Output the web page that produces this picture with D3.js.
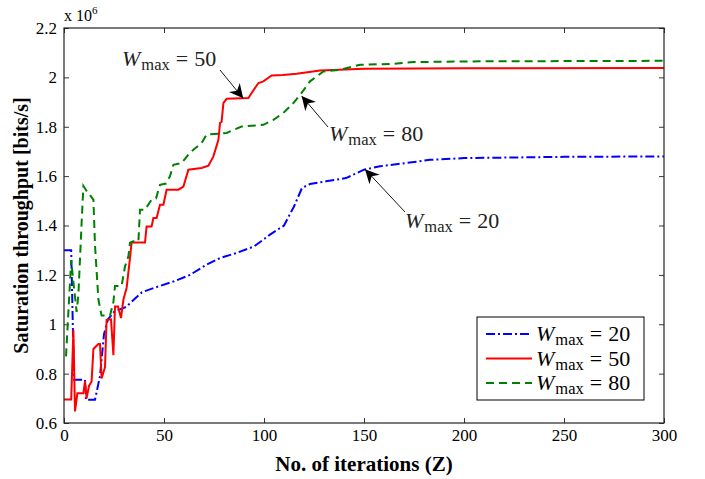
<!DOCTYPE html>
<html>
<head>
<meta charset="utf-8">
<script src="https://cdn.jsdelivr.net/npm/d3@7"></script>
<style>
  body { margin: 0; background: #fff; }
</style>
</head>
<body>
<div id="chart"></div>
<script>

// iterations (Z) and throughput (x 10^6 bits/s)
var w20Iter = [0, 3.6, 5, 10.5, 11, 15.5, 18, 20, 22, 25, 31, 35, 39, 45, 55, 63, 71, 78, 86, 95, 103, 110, 115, 119, 123, 131, 141, 150, 158, 171, 183, 200, 250, 300];
var w20Vals = [1.30, 1.30, 0.775, 0.775, 0.694, 0.694, 0.79, 0.96, 1.02, 1.05, 1.07, 1.10, 1.13, 1.147, 1.174, 1.20, 1.24, 1.268, 1.288, 1.315, 1.363, 1.40, 1.477, 1.552, 1.568, 1.579, 1.592, 1.626, 1.64, 1.653, 1.666, 1.673, 1.678, 1.68];

var w50Iter = [0, 3.6, 4.7, 5.5, 6.7, 9.7, 10.5, 11.3, 12.5, 13.8, 14.7, 17.2, 18, 18.8, 20.5, 21.3, 23.5, 24.7, 25.5, 27, 28.5, 29.7, 31.3, 33, 33.8, 40.5, 41.3, 43.8, 44.7, 46.3, 48, 49.7, 51.3, 57.2, 59.7, 62.2, 68.8, 72.2, 74.7, 77.2, 78, 78.8, 79.7, 81.3, 92.2, 93.8, 97.2, 99.7, 103.8, 109.5, 116.3, 128, 150, 200, 300];
var w50Vals = [0.695, 0.695, 0.978, 0.647, 0.721, 0.721, 0.77, 0.70, 0.75, 0.768, 0.90, 0.92, 0.92, 0.78, 0.826, 1.018, 1.02, 0.875, 1.072, 1.072, 1.025, 1.10, 1.147, 1.268, 1.331, 1.331, 1.396, 1.396, 1.43, 1.43, 1.484, 1.484, 1.545, 1.545, 1.558, 1.626, 1.633, 1.642, 1.68, 1.747, 1.815, 1.82, 1.896, 1.913, 1.916, 1.937, 1.977, 1.984, 2.008, 2.01, 2.015, 2.028, 2.035, 2.037, 2.038];

var w80Iter = [1, 2.2, 3.6, 4.7, 6.3, 7.2, 8.8, 9.7, 11.3, 14.7, 15.5, 17.2, 18.8, 23, 24.7, 25.5, 28.8, 30.5, 32.2, 33, 34.7, 37.2, 38, 40.5, 43.8, 46, 48, 51, 53, 54.7, 58.8, 62.2, 64.7, 68.8, 71.3, 81.3, 88.8, 99.7, 104.7, 109.7, 114.7, 118.8, 123, 129.7, 138, 148, 164.7, 174.7, 208, 300];
var w80Vals = [0.87, 1.05, 1.26, 1.17, 1.05, 1.12, 1.41, 1.56, 1.54, 1.505, 1.32, 1.10, 1.035, 1.035, 1.09, 1.155, 1.155, 1.234, 1.275, 1.33, 1.336, 1.336, 1.464, 1.464, 1.505, 1.51, 1.565, 1.57, 1.60, 1.646, 1.653, 1.687, 1.707, 1.734, 1.768, 1.775, 1.801, 1.808, 1.828, 1.856, 1.896, 1.937, 1.984, 2.024, 2.031, 2.051, 2.055, 2.062, 2.065, 2.067];

var xTicks = [0, 50, 100, 150, 200, 250, 300];
var yTicks = [0.6, 0.8, 1.0, 1.2, 1.4, 1.6, 1.8, 2.0, 2.2];
var wmaxLabels = ["20", "50", "80"];

var serif = "'Liberation Serif', 'Times New Roman', serif";

var width = 705, height = 479;
var margin = {top: 28, right: 41, bottom: 56, left: 64};
var innerW = width - margin.left - margin.right,
    innerH = height - margin.top - margin.bottom;

var svg = d3.select("#chart").append("svg")
  .attr("width", width)
  .attr("height", height);

var g = svg.append("g")
  .attr("transform", "translate(" + margin.left + "," + margin.top + ")");

var x = d3.scaleLinear().domain([0, 300]).range([0, innerW]);
var y = d3.scaleLinear().domain([0.6, 2.2]).range([innerH, 0]);

var fmt = d3.format("~g");

function styleAxis(sel) {
  sel.attr("font-family", null).attr("font-size", null);
  sel.select(".domain").remove();
  sel.selectAll(".tick line").attr("stroke", "#000").attr("stroke-width", 0.8);
  sel.selectAll("text").style("font-size", "17px").attr("fill", "#000");
}

g.append("g")
  .attr("transform", "translate(0," + innerH + ")")
  .call(d3.axisBottom(x).tickValues(xTicks).tickSize(-5).tickPadding(6).tickFormat(fmt))
  .call(styleAxis);

g.append("g")
  .call(d3.axisTop(x).tickValues(xTicks).tickSize(-5).tickFormat(""))
  .call(styleAxis);

g.append("g")
  .call(d3.axisLeft(y).tickValues(yTicks).tickSize(-5).tickPadding(7).tickFormat(fmt))
  .call(styleAxis);

g.append("g")
  .attr("transform", "translate(" + innerW + ",0)")
  .call(d3.axisRight(y).tickValues(yTicks).tickSize(-5).tickFormat(""))
  .call(styleAxis);

var series = [
  {iter: w20Iter, vals: w20Vals, color: "#0000ff", dash: "9,3,2,3"},
  {iter: w50Iter, vals: w50Vals, color: "#ff0000", dash: null},
  {iter: w80Iter, vals: w80Vals, color: "#008000", dash: "8,5"}
];

var line = d3.line()
  .x(function(d) { return x(d[0]); })
  .y(function(d) { return y(d[1]); });

var defs = svg.append("defs");
defs.append("clipPath").attr("id", "plotclip")
  .append("rect").attr("width", innerW).attr("height", innerH);

g.append("g").attr("clip-path", "url(#plotclip)")
  .selectAll("path.series")
  .data(series)
  .enter().append("path")
  .attr("class", "series")
  .attr("d", function(s) { return line(d3.zip(s.iter, s.vals)); })
  .attr("fill", "none")
  .attr("stroke", function(s) { return s.color; })
  .attr("stroke-width", 2)
  .attr("stroke-dasharray", function(s) { return s.dash; });

// box
g.append("rect")
  .attr("width", innerW).attr("height", innerH)
  .attr("fill", "none").attr("stroke", "#222").attr("stroke-width", 1.2);

// W_max label helper (math-ish spacing)
function wmax(sel, num, size) {
  sel.append("tspan").style("font-style", "italic").text("W");
  sel.append("tspan").attr("dx", 1).attr("dy", 4).style("font-size", (size * 0.75) + "px").text("max");
  sel.append("tspan").attr("dx", 6).attr("dy", -4).text("=");
  sel.append("tspan").attr("dx", 6).text(num);
}

// annotations with arrows
defs.append("marker")
  .attr("id", "arrowhead")
  .attr("viewBox", "0 0 10 10")
  .attr("refX", 10).attr("refY", 5)
  .attr("markerWidth", 14).attr("markerHeight", 14)
  .attr("markerUnits", "userSpaceOnUse")
  .attr("orient", "auto")
  .append("path").attr("d", "M0,0 L10,5 L0,10 L3,5 Z").attr("fill", "#000");

var notes = [
  {label: wmaxLabels[1], tx: 122, ty: 66, from: [220, 70], at: [89.6, 1.915]},
  {label: wmaxLabels[2], tx: 329, ty: 141, from: [328, 127], at: [118.8, 1.925]},
  {label: wmaxLabels[0], tx: 405, ty: 228, from: [405, 212], at: [150.5, 1.628]}
];

notes.forEach(function(n) {
  svg.append("line")
    .attr("x1", n.from[0]).attr("y1", n.from[1])
    .attr("x2", margin.left + x(n.at[0])).attr("y2", margin.top + y(n.at[1]))
    .attr("stroke", "#000").attr("stroke-width", 0.9)
    .attr("marker-end", "url(#arrowhead)");
  var t = svg.append("text")
    .attr("x", n.tx).attr("y", n.ty)
    .style("font-size", "22px").attr("fill", "#222");
  wmax(t, n.label, 22);
});

// legend
var leg = svg.append("g").attr("transform", "translate(477,317)");
leg.append("rect").attr("width", 167).attr("height", 83)
  .attr("fill", "#fff").attr("stroke", "#000").attr("stroke-width", 1);

var rows = leg.selectAll("g.row").data(series).enter().append("g")
  .attr("class", "row")
  .attr("transform", function(d, i) { return "translate(0," + (17 + i * 24.5) + ")"; });

rows.append("line")
  .attr("x1", 9).attr("x2", 55)
  .attr("stroke", function(s) { return s.color; })
  .attr("stroke-width", 2)
  .attr("stroke-dasharray", function(s) { return s.dash; });

rows.each(function(s, i) {
  var t = d3.select(this).append("text")
    .attr("x", 59).attr("y", 7)
    .style("font-size", "22px").attr("fill", "#000");
  wmax(t, wmaxLabels[i], 22);
});

// axis titles
svg.append("text")
  .attr("transform", "translate(28," + (margin.top + innerH / 2) + ") rotate(-90)")
  .attr("text-anchor", "middle")
  .style("font-size", "20px").style("font-weight", "bold")
  .text("Saturation throughput [bits/s]");

svg.append("text")
  .attr("x", margin.left + innerW / 2).attr("y", 471)
  .attr("text-anchor", "middle")
  .style("font-size", "21px").style("font-weight", "bold")
  .text("No. of iterations (Z)");

// exponent note
var ex = svg.append("text").attr("x", 64).attr("y", 21).style("font-size", "16px");
ex.append("tspan").text("x 10");
ex.append("tspan").attr("dy", -7).style("font-size", "11px").text("6");

svg.selectAll("text").style("font-family", serif);

</script>
</body>
</html>
